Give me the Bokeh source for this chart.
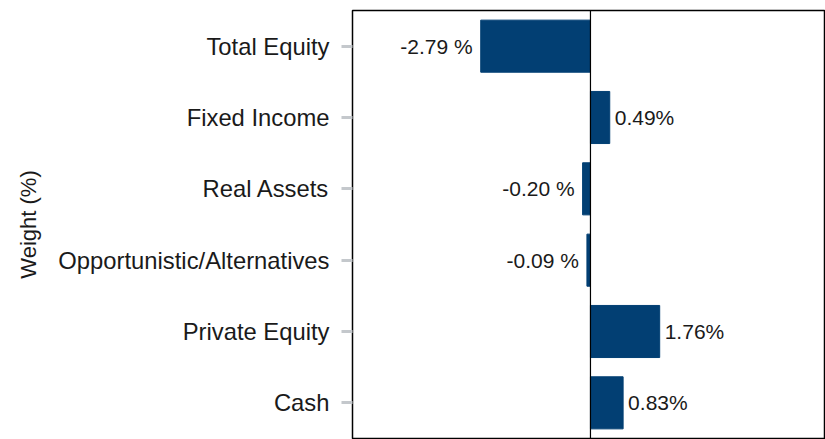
from bokeh.plotting import figure
from bokeh.models import ColumnDataSource, Span, FactorRange
from bokeh.embed import file_html
from bokeh.resources import INLINE
from bokeh.core.properties import value

categories = ["Total Equity", "Fixed Income", "Real Assets",
              "Opportunistic/Alternatives", "Private Equity", "Cash"]
weights = [-2.79, 0.49, -0.20, -0.09, 1.76, 0.83]
axis_title = "Weight (%)"

FONT = "Liberation Sans"
BAR = "#023f73"

labels = [f"{v:.2f} %" if v < 0 else f"{v:.2f}%" for v in weights]
src = ColumnDataSource(dict(cat=categories, w=weights, lab=labels,
                            align=["right" if v < 0 else "left" for v in weights],
                            off=[-8 if v < 0 else 5 for v in weights]))

p = figure(width=825, height=439, output_backend="svg", toolbar_location=None,
           y_range=FactorRange(*reversed(categories)), x_range=(-6.05, 5.95),
           min_border_left=352, min_border_top=10, min_border_right=1, min_border_bottom=1)

p.hbar(y="cat", right="w", left=0, height=0.73, color=BAR, source=src)

p.text(x="w", y="cat", text="lab", x_offset="off", text_align="align",
       text_baseline="middle", text_font=value(FONT), text_font_size="21px",
       text_color="#1a1a1a", source=src)

p.add_layout(Span(location=0, dimension="height", line_color="black", line_width=1.2))

p.xaxis.visible = False
p.xgrid.grid_line_color = None
p.ygrid.grid_line_color = None
p.outline_line_color = "black"
p.outline_line_width = 1.5

ya = p.yaxis[0]
ya.axis_label = axis_title
ya.axis_label_text_font = FONT
ya.axis_label_text_font_size = "22px"
ya.axis_label_text_font_style = "normal"
ya.axis_label_text_color = "#1a1a1a"
ya.axis_label_standoff = 14
ya.major_label_text_font = FONT
ya.major_label_text_font_size = "23.8px"
ya.major_label_text_color = "#1a1a1a"
ya.major_label_standoff = 12
ya.axis_line_color = None
ya.major_tick_line_color = "#c4c8cc"
ya.major_tick_line_width = 3
ya.major_tick_out = 11
ya.major_tick_in = 0
ya.minor_tick_line_color = None

p.background_fill_color = "white"
p.border_fill_color = "white"

open("out.html", "w").write(file_html(p, INLINE))
